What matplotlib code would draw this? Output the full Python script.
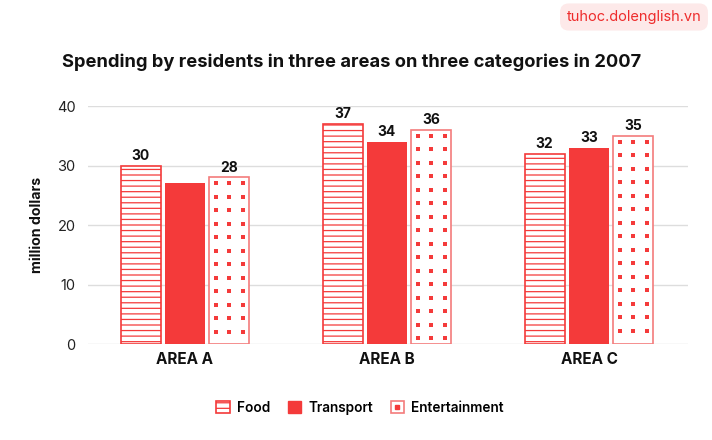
import matplotlib
matplotlib.use("Agg")
import matplotlib.pyplot as plt
import numpy as np
from matplotlib.patches import Patch
from matplotlib.lines import Line2D
from matplotlib.legend_handler import HandlerTuple

plt.rcParams['font.family'] = ['Inter', 'DejaVu Sans']
plt.rcParams['hatch.linewidth'] = 0.9

categories = ["AREA A", "AREA B", "AREA C"]
food = [30, 37, 32]
transport = [27, 34, 33]
entertainment = [28, 36, 35]
food_labels = ["30", "37", "32"]
transport_labels = ["", "34", "33"]
ent_labels = ["28", "36", "35"]
yticks = [0, 10, 20, 30, 40]

RED = "#F43A3A"
LIGHTRED = "#F47C7C"

fig = plt.figure(figsize=(7.12, 4.40), dpi=100)
ax = fig.add_axes([88/712, 1-344/440, 600/712, 238/440])

x = np.arange(len(categories))
w = 0.198
off = 0.22

b1 = ax.bar(x - off, food, w, facecolor="white", edgecolor=RED, hatch="---", linewidth=1.2, zorder=3)
b2 = ax.bar(x, transport, w, color=RED, edgecolor=RED, linewidth=0, zorder=3)
b3 = ax.bar(x + off, entertainment, w, facecolor="white", edgecolor=LIGHTRED, linewidth=1.2, zorder=3)

# square dot pattern inside entertainment bars
step = 2.27
for p in b3:
    x0, wd, h = p.get_x(), p.get_width(), p.get_height()
    ys = np.arange(h - 1.0, 0.9, -step)
    for fx in (0.16, 0.5, 0.84):
        ax.scatter(np.full(len(ys), x0 + fx * wd), ys, marker="s", s=11, color=RED, linewidths=0, zorder=4)

for bars, labs in ((b1, food_labels), (b2, transport_labels), (b3, ent_labels)):
    for p, lab in zip(bars, labs):
        if lab:
            ax.text(p.get_x() + p.get_width()/2, p.get_height() + 0.4, lab, ha="center", va="bottom",
                    fontsize=10, fontweight="bold", color="#111111", zorder=5)

ax.set_xlim(-0.48, 2.49)
ax.set_ylim(0, 40)
ax.set_yticks(yticks)
ax.set_yticklabels([str(v) for v in yticks], fontsize=10.5, color="#222222")
ax.set_xticks(x)
ax.set_xticklabels(categories, fontsize=11, fontweight="bold", color="#111111")
ax.tick_params(axis="y", length=0, pad=9)
ax.tick_params(axis="x", length=0, pad=6)
for s in ax.spines.values():
    s.set_visible(False)
ax.grid(axis="y", color="#DDDDDD", linewidth=1, zorder=0)
ax.set_axisbelow(True)
ax.set_ylabel("million dollars", fontsize=10.2, fontweight="bold", color="#111111", labelpad=9)

fig.text(352/712, 1-62/440, "Spending by residents in three areas on three categories in 2007",
         ha="center", va="center", fontsize=13.2, fontweight="bold", color="#111111")

fig.text(634/712, 1-17/440, "tuhoc.dolenglish.vn", ha="center", va="center", fontsize=10.5,
         color="#EE2B2B", bbox=dict(boxstyle="round,pad=0.45,rounding_size=0.6", facecolor="#FDE9E9", edgecolor="none"))

h_food = Patch(facecolor="white", edgecolor=RED, hatch="---", linewidth=1.2)
h_tr = Patch(facecolor=RED, edgecolor=RED)
h_ent = (Patch(facecolor="white", edgecolor=LIGHTRED, linewidth=1.2),
         Line2D([], [], marker="s", color=RED, markersize=3.5, linestyle="none"))
fig.legend([h_food, h_tr, h_ent], ["Food", "Transport", "Entertainment"],
           handler_map={tuple: HandlerTuple(ndivide=1, pad=0)},
           loc="center", bbox_to_anchor=(360/712, 1-408/440), ncol=3, frameon=False,
           handlelength=1.0, handleheight=1.0, columnspacing=1.3, handletextpad=0.5,
           prop={"weight": "semibold", "size": 9.8})

fig.savefig("out.png", dpi=100)
